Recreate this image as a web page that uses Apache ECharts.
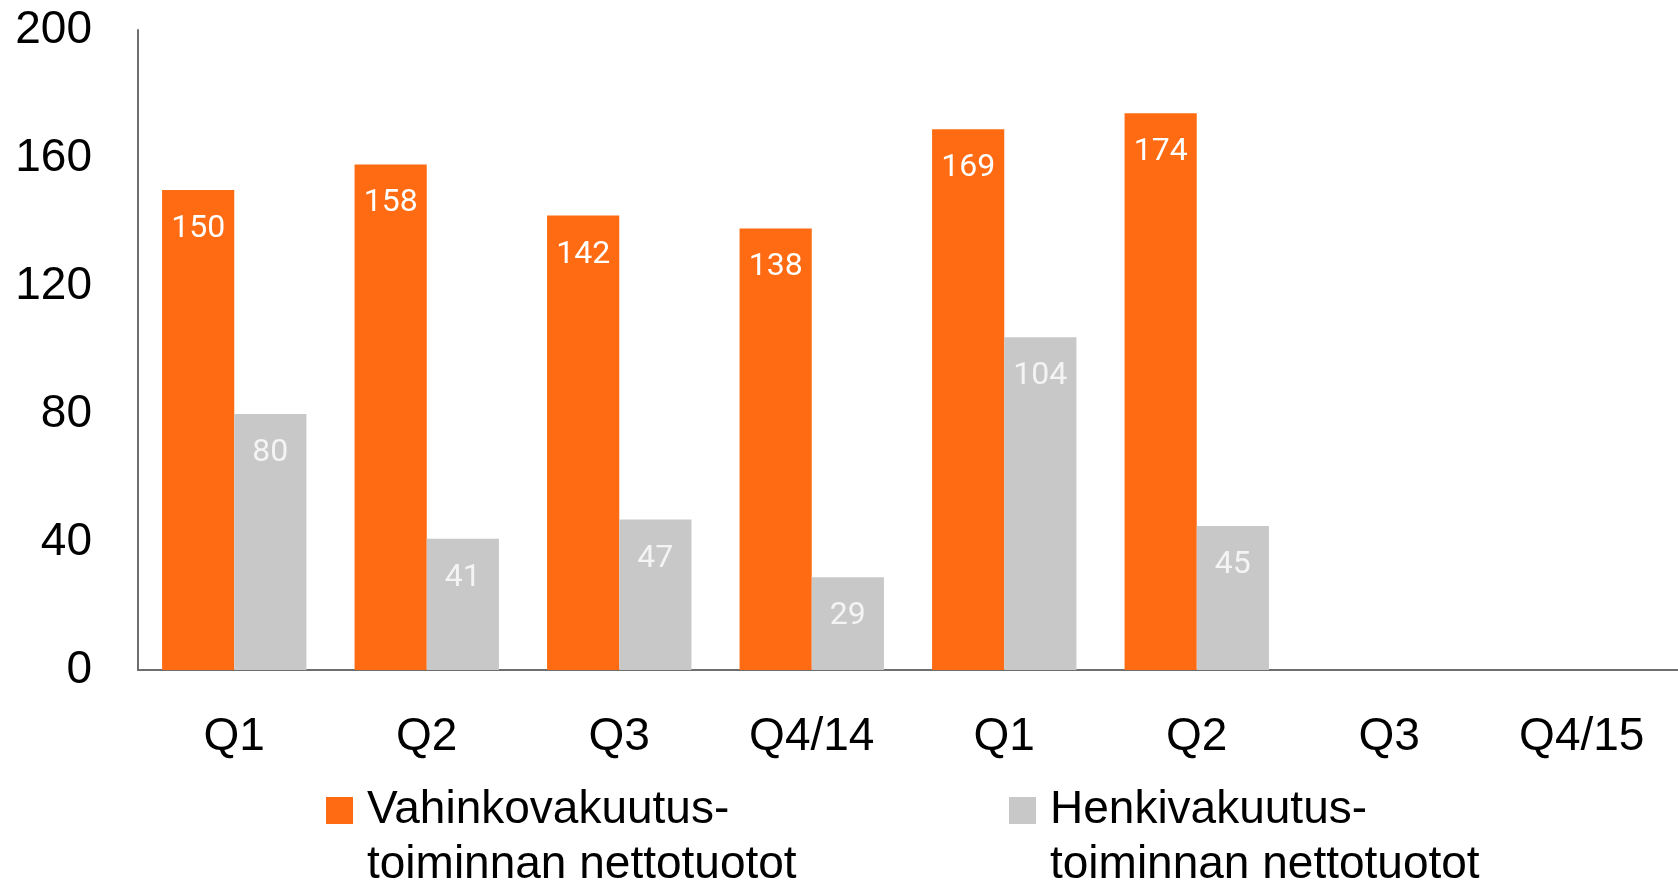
<!DOCTYPE html>
<html>
<head>
<meta charset="utf-8">
<script src="https://cdn.jsdelivr.net/npm/echarts@6/dist/echarts.min.js"></script>
<style>
  html, body { margin: 0; padding: 0; background: #fff; }
  #chart { width: 1678px; height: 886px; }
</style>
</head>
<body>
<div id="chart"></div>
<script>
var categories = ['Q1', 'Q2', 'Q3', 'Q4/14', 'Q1', 'Q2', 'Q3', 'Q4/15'];
var seriesNames = ['Vahinkovakuutus-\ntoiminnan nettotuotot', 'Henkivakuutus-\ntoiminnan nettotuotot'];
var vahinko = [150, 158, 142, 138, 169, 174, '-', '-'];
var henki = [80, 41, 47, 29, 104, 45, '-', '-'];
var yTicks = [0, 40, 80, 120, 160, 200];

(function() {
  var orange = '#ff6b12';
  var grey = '#c8c8c8';
  var axisCol = '#6e6e6e';
  var font = '"Liberation Sans", Arial, sans-serif';

  var legendText = {
    color: '#000', fontSize: 46, fontFamily: font, lineHeight: 55,
    rich: { t: { color: '#000', fontSize: 46, fontFamily: font, lineHeight: 55, padding: [0, 0, 0, 9] } }
  };
  // blank first line so the icon sits level with the first text line
  var legendFmt = function(name) {
    return '\n' + name.split('\n').map(function(l) { return '{t|' + l + '}'; }).join('\n');
  };

  var chart = echarts.init(document.getElementById('chart'), null, { renderer: 'canvas' });
  chart.setOption({
    animation: false,
    grid: { left: 138, right: 0, top: 30, bottom: 216 },
    legend: [
      { data: [seriesNames[0]], left: 326, top: 728, padding: 0, itemWidth: 27, itemHeight: 27,
        itemGap: 14, icon: 'rect', formatter: legendFmt, textStyle: legendText },
      { data: [seriesNames[1]], left: 1009, top: 728, padding: 0, itemWidth: 27, itemHeight: 27,
        itemGap: 14, icon: 'rect', formatter: legendFmt, textStyle: legendText }
    ],
    xAxis: {
      type: 'category',
      data: categories,
      axisLine: { lineStyle: { color: axisCol, width: 2 } },
      axisTick: { show: false },
      axisLabel: { color: '#000', fontSize: 46, fontFamily: font, lineHeight: 46, margin: 44 }
    },
    yAxis: {
      type: 'value',
      min: yTicks[0],
      max: yTicks[yTicks.length - 1],
      interval: 40,
      axisLine: { show: true, lineStyle: { color: axisCol, width: 2 } },
      axisTick: { show: false },
      splitLine: { show: false },
      axisLabel: { color: '#000', fontSize: 46, fontFamily: font, margin: 46 }
    },
    series: [
      {
        name: seriesNames[0], type: 'bar', data: vahinko,
        barGap: '0%', barCategoryGap: '25%',
        itemStyle: { color: orange },
        label: { show: true, position: 'insideTop', distance: 23, color: '#fff',
          fontSize: 32, fontFamily: 'Roboto, sans-serif' }
      },
      {
        name: seriesNames[1], type: 'bar', data: henki,
        barGap: '0%', barCategoryGap: '25%',
        itemStyle: { color: grey },
        label: { show: true, position: 'insideTop', distance: 23, color: '#f4f4f4',
          fontSize: 32, fontFamily: 'Roboto, sans-serif' }
      }
    ]
  });
  window.addEventListener('resize', function() { chart.resize(); });
})();
</script>
</body>
</html>
